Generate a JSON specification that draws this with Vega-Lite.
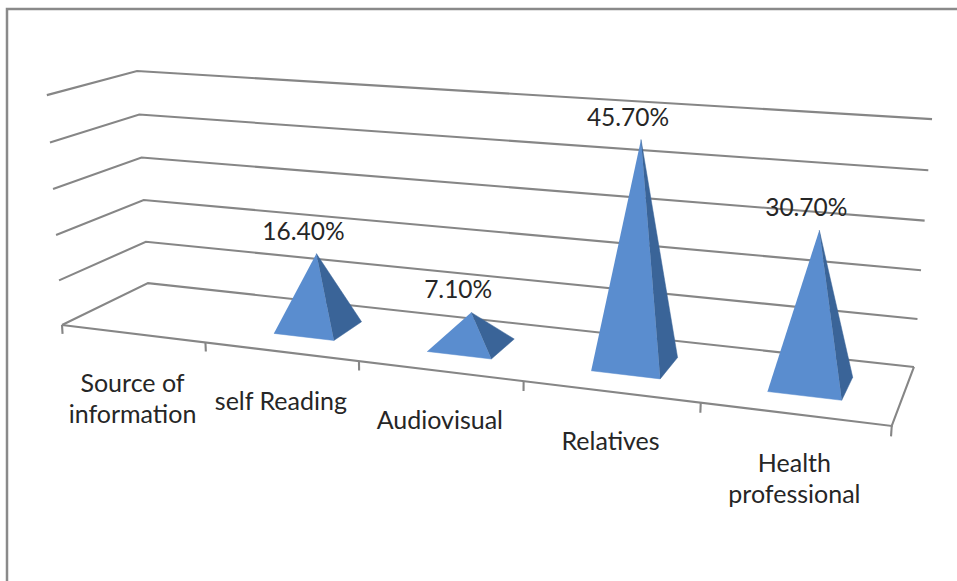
{"$schema":"https://vega.github.io/schema/vega-lite/v6.json","width":960,"height":580,"autosize":"none","padding":{"left":7,"top":9,"right":0,"bottom":0},"background":"white","view":{"stroke":"#8a8a8a","strokeWidth":2.5,"fill":"white"},"config":{"text":{"font":"Lato"}},"datasets":{"categories":[{"category":"Source of\ninformation","slot":0,"value":null},{"category":"self Reading","slot":1,"value":16.4},{"category":"Audiovisual","slot":2,"value":7.1},{"category":"Relatives","slot":3,"value":45.7},{"category":"Health\nprofessional","slot":4,"value":30.7}],"frame":[{"path":"grid0","step":0,"u":0,"v":0,"h":0},{"path":"grid0","step":1,"u":0,"v":1,"h":0},{"path":"grid0","step":2,"u":5,"v":1,"h":0},{"path":"grid10","step":0,"u":0,"v":0,"h":10},{"path":"grid10","step":1,"u":0,"v":1,"h":10},{"path":"grid10","step":2,"u":5,"v":1,"h":10},{"path":"grid20","step":0,"u":0,"v":0,"h":20},{"path":"grid20","step":1,"u":0,"v":1,"h":20},{"path":"grid20","step":2,"u":5,"v":1,"h":20},{"path":"grid30","step":0,"u":0,"v":0,"h":30},{"path":"grid30","step":1,"u":0,"v":1,"h":30},{"path":"grid30","step":2,"u":5,"v":1,"h":30},{"path":"grid40","step":0,"u":0,"v":0,"h":40},{"path":"grid40","step":1,"u":0,"v":1,"h":40},{"path":"grid40","step":2,"u":5,"v":1,"h":40},{"path":"grid50","step":0,"u":0,"v":0,"h":50},{"path":"grid50","step":1,"u":0,"v":1,"h":50},{"path":"grid50","step":2,"u":5,"v":1,"h":50},{"path":"floor","step":0,"u":0,"v":0,"h":0},{"path":"floor","step":1,"u":5,"v":0,"h":0},{"path":"floor","step":2,"u":5,"v":1,"h":0},{"path":"tick0","step":0,"u":0,"v":0,"h":0},{"path":"tick0","step":1,"u":0,"v":0,"h":-2},{"path":"tick1","step":0,"u":1,"v":0,"h":0},{"path":"tick1","step":1,"u":1,"v":0,"h":-2},{"path":"tick2","step":0,"u":2,"v":0,"h":0},{"path":"tick2","step":1,"u":2,"v":0,"h":-2},{"path":"tick3","step":0,"u":3,"v":0,"h":0},{"path":"tick3","step":1,"u":3,"v":0,"h":-2},{"path":"tick4","step":0,"u":4,"v":0,"h":0},{"path":"tick4","step":1,"u":4,"v":0,"h":-2},{"path":"tick5","step":0,"u":5,"v":0,"h":0},{"path":"tick5","step":1,"u":5,"v":0,"h":-2}]},"layer":[{"data":{"name":"frame"},"transform":[{"calculate":"1-0.0328*datum.u+0.088*datum.v-0.00072*datum.h","as":"w"},{"calculate":"(62+136.7*datum.u+99*datum.v-0.337*datum.h)/datum.w","as":"sx"},{"calculate":"(325+6.22*datum.u-17*datum.v-4.666*datum.h)/datum.w","as":"sy"}],"mark":{"type":"line","color":"#868686","strokeWidth":2.1,"clip":false},"encoding":{"x":{"field":"sx","type":"quantitative","scale":{"domain":[7,967],"nice":false,"zero":false},"axis":null},"y":{"field":"sy","type":"quantitative","scale":{"domain":[589,9],"nice":false,"zero":false},"axis":null},"detail":{"field":"path"},"order":{"field":"step"}}},{"data":{"name":"categories"},"transform":[{"filter":"isValid(datum.value)"},{"calculate":"['left','right']","as":"faces"},{"flatten":["faces"],"as":["face"]},{"calculate":"[0,1,2]","as":"verts"},{"flatten":["verts"],"as":["vertex"]},{"calculate":"datum.slot+0.5+(datum.vertex==2?0:(datum.face=='left'&&datum.vertex==0?-0.2:0.2))","as":"u"},{"calculate":"0.5+(datum.vertex==2?0:(datum.face=='right'&&datum.vertex==1?0.2:-0.2))","as":"v"},{"calculate":"datum.vertex==2?datum.value:0","as":"h"},{"calculate":"1-0.0328*datum.u+0.088*datum.v-0.00072*datum.h","as":"w"},{"calculate":"(62+136.7*datum.u+99*datum.v-0.337*datum.h)/datum.w","as":"sx"},{"calculate":"(325+6.22*datum.u-17*datum.v-4.666*datum.h)/datum.w","as":"sy"}],"layer":[{"transform":[{"filter":"datum.face=='left'"}],"mark":{"type":"line","fill":"#5a8dcf","stroke":"#5a8dcf","strokeWidth":0.5,"clip":false},"encoding":{"x":{"field":"sx","type":"quantitative","axis":null},"y":{"field":"sy","type":"quantitative","axis":null},"detail":{"field":"category"},"order":{"field":"vertex"}}},{"transform":[{"filter":"datum.face=='right'"}],"mark":{"type":"line","fill":"#3a6498","stroke":"#3a6498","strokeWidth":0.5,"clip":false},"encoding":{"x":{"field":"sx","type":"quantitative","axis":null},"y":{"field":"sy","type":"quantitative","axis":null},"detail":{"field":"category"},"order":{"field":"vertex"}}}]},{"data":{"name":"categories"},"transform":[{"calculate":"split(datum.category,'\\n')","as":"lines"},{"calculate":"1-0.0328*(datum.slot+0.5)","as":"w"},{"calculate":"(62+136.7*(datum.slot+0.5))/datum.w","as":"sx"},{"calculate":"(325+6.22*(datum.slot+0.5))/datum.w","as":"sy"}],"mark":{"type":"text","font":"Lato","fontSize":25,"color":"#262626","align":"center","baseline":"alphabetic","dy":58,"lineHeight":31},"encoding":{"x":{"field":"sx","type":"quantitative","axis":null},"y":{"field":"sy","type":"quantitative","axis":null},"text":{"field":"lines"}}},{"data":{"name":"categories"},"transform":[{"filter":"isValid(datum.value)"},{"calculate":"format(datum.value/100,'.2%')","as":"label"},{"calculate":"1-0.0328*(datum.slot+0.5)+0.044-0.00072*datum.value","as":"w"},{"calculate":"(62+136.7*(datum.slot+0.5)+49.5-0.337*datum.value)/datum.w","as":"sx"},{"calculate":"(325+6.22*(datum.slot+0.5)-8.5-4.666*datum.value)/datum.w","as":"sy"}],"mark":{"type":"text","font":"Lato","fontSize":24.5,"color":"#262626","align":"center","baseline":"alphabetic","dx":-13,"dy":-14},"encoding":{"x":{"field":"sx","type":"quantitative","axis":null},"y":{"field":"sy","type":"quantitative","axis":null},"text":{"field":"label"}}}],"resolve":{"scale":{"x":"shared","y":"shared"}}}
